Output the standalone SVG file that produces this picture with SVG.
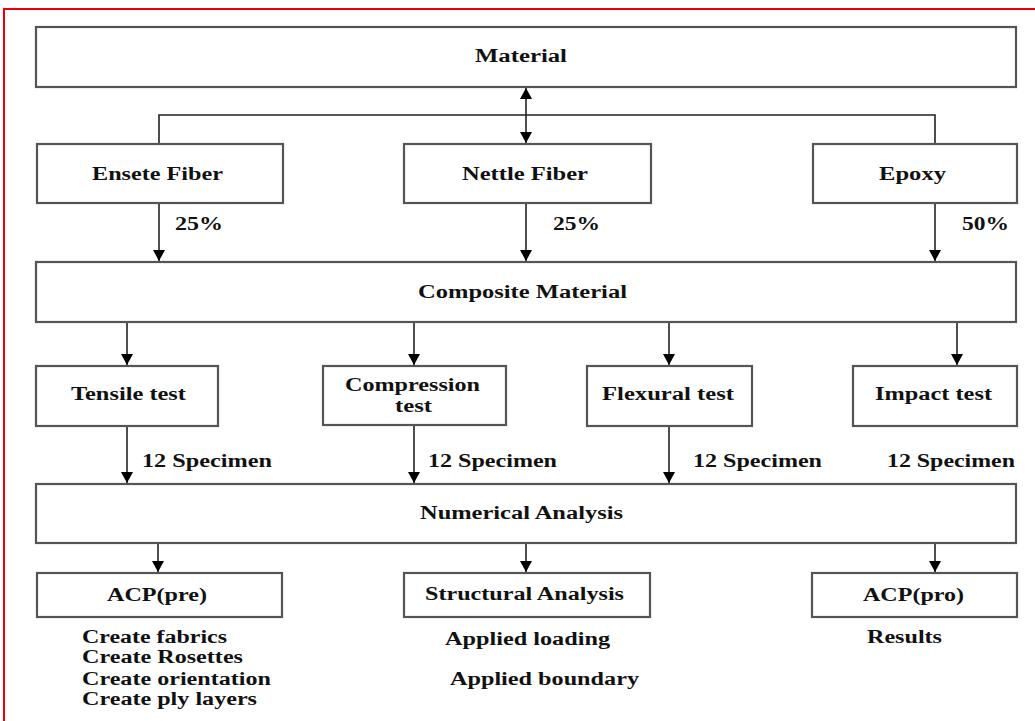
<svg xmlns="http://www.w3.org/2000/svg" width="1035" height="721" viewBox="0 0 1035 721">
<defs>
<marker id="ah" markerUnits="userSpaceOnUse" markerWidth="14" markerHeight="14" refX="11" refY="6" orient="auto-start-reverse">
<path d="M0,0 L11,6 L0,12 z" fill="#000"/>
</marker>
<style>
.box{fill:#fff;stroke:#555;stroke-width:2.2}
.t{font-family:"Liberation Serif","Times New Roman",serif;font-weight:bold;font-size:18px;fill:#111}
.c{fill:none;stroke:#222;stroke-width:1.6}
.a{marker-end:url(#ah)}
</style>
</defs>
<rect x="0" y="0" width="1035" height="721" fill="#fff"/>
<rect x="4" y="9" width="1100" height="800" fill="none" stroke="#e00" stroke-width="2"/>

<g id="connectors">
<polyline class="c" points="159,144 159,115 935,115 935,144"/>
<line class="c" x1="526" y1="88" x2="526" y2="143" marker-start="url(#ah)" marker-end="url(#ah)"/>
<line class="c a" x1="159" y1="203" x2="159" y2="261"/>
<line class="c a" x1="526" y1="203" x2="526" y2="261"/>
<line class="c a" x1="935" y1="203" x2="935" y2="261"/>
<line class="c" x1="648" y1="322" x2="669" y2="322"/>
<line class="c a" x1="127" y1="322" x2="127" y2="365"/>
<line class="c a" x1="414" y1="322" x2="414" y2="365"/>
<line class="c a" x1="669" y1="322" x2="669" y2="365"/>
<line class="c a" x1="957" y1="322" x2="957" y2="365"/>
<line class="c a" x1="127" y1="426" x2="127" y2="483"/>
<line class="c a" x1="414" y1="426" x2="414" y2="483"/>
<line class="c a" x1="669" y1="426" x2="669" y2="483"/>
<line class="c a" x1="158" y1="543" x2="158" y2="572"/>
<line class="c a" x1="526" y1="543" x2="526" y2="572"/>
<line class="c a" x1="935" y1="543" x2="935" y2="572"/>
</g>

<g id="material"><rect class="box" x="36" y="27" width="980" height="60"/><text class="t" x="475" y="62" textLength="92" lengthAdjust="spacingAndGlyphs">Material</text></g>
<g id="ensete"><rect class="box" x="37" y="144" width="246" height="59"/><text class="t" x="92" y="180" textLength="131" lengthAdjust="spacingAndGlyphs">Ensete Fiber</text></g>
<g id="nettle"><rect class="box" x="404" y="144" width="247" height="59"/><text class="t" x="462" y="180" textLength="126" lengthAdjust="spacingAndGlyphs">Nettle Fiber</text></g>
<g id="epoxy"><rect class="box" x="813" y="144" width="204" height="59"/><text class="t" x="879" y="180" textLength="67" lengthAdjust="spacingAndGlyphs">Epoxy</text></g>

<g id="pct">
<text class="t" x="175" y="230" textLength="48" lengthAdjust="spacingAndGlyphs">25%</text>
<text class="t" x="553" y="230" textLength="47" lengthAdjust="spacingAndGlyphs">25%</text>
<text class="t" x="962" y="230" textLength="47" lengthAdjust="spacingAndGlyphs">50%</text>
</g>

<g id="composite"><rect class="box" x="36" y="262" width="980" height="60"/><text class="t" x="418" y="298" textLength="209" lengthAdjust="spacingAndGlyphs">Composite Material</text></g>

<g id="tensile"><rect class="box" x="36" y="366" width="182" height="60"/><text class="t" x="71" y="400" textLength="115" lengthAdjust="spacingAndGlyphs">Tensile test</text></g>
<g id="compression"><rect class="box" x="323" y="366" width="183" height="59"/><text class="t" x="345" y="391" textLength="135" lengthAdjust="spacingAndGlyphs">Compression</text><text class="t" x="395" y="412" textLength="37" lengthAdjust="spacingAndGlyphs">test</text></g>
<g id="flexural"><rect class="box" x="587" y="366" width="165" height="60"/><text class="t" x="602" y="400" textLength="132" lengthAdjust="spacingAndGlyphs">Flexural test</text></g>
<g id="impact"><rect class="box" x="853" y="366" width="164" height="60"/><text class="t" x="875" y="400" textLength="117" lengthAdjust="spacingAndGlyphs">Impact test</text></g>

<g id="specimen">
<text class="t" x="142" y="467" textLength="130" lengthAdjust="spacingAndGlyphs">12 Specimen</text>
<text class="t" x="428" y="467" textLength="129" lengthAdjust="spacingAndGlyphs">12 Specimen</text>
<text class="t" x="693" y="467" textLength="129" lengthAdjust="spacingAndGlyphs">12 Specimen</text>
<text class="t" x="887" y="467" textLength="128" lengthAdjust="spacingAndGlyphs">12 Specimen</text>
</g>

<g id="numerical"><rect class="box" x="36" y="484" width="980" height="59"/><text class="t" x="420" y="519" textLength="203" lengthAdjust="spacingAndGlyphs">Numerical Analysis</text></g>

<g id="acppre"><rect class="box" x="37" y="573" width="245" height="44"/><text class="t" x="107" y="601" textLength="100" lengthAdjust="spacingAndGlyphs">ACP(pre)</text></g>
<g id="structural"><rect class="box" x="404" y="573" width="246" height="44"/><text class="t" x="425" y="600" textLength="199" lengthAdjust="spacingAndGlyphs">Structural Analysis</text></g>
<g id="acppro"><rect class="box" x="812" y="573" width="205" height="44"/><text class="t" x="863" y="601" textLength="101" lengthAdjust="spacingAndGlyphs">ACP(pro)</text></g>

<g id="notes">
<text class="t" x="82" y="643" textLength="145" lengthAdjust="spacingAndGlyphs">Create fabrics</text>
<text class="t" x="82" y="663" textLength="161" lengthAdjust="spacingAndGlyphs">Create Rosettes</text>
<text class="t" x="82" y="685" textLength="189" lengthAdjust="spacingAndGlyphs">Create orientation</text>
<text class="t" x="82" y="705" textLength="175" lengthAdjust="spacingAndGlyphs">Create ply layers</text>
<text class="t" x="445" y="645" textLength="165" lengthAdjust="spacingAndGlyphs">Applied loading</text>
<text class="t" x="450" y="685" textLength="189" lengthAdjust="spacingAndGlyphs">Applied boundary</text>
<text class="t" x="867" y="643" textLength="75" lengthAdjust="spacingAndGlyphs">Results</text>
</g>
</svg>
